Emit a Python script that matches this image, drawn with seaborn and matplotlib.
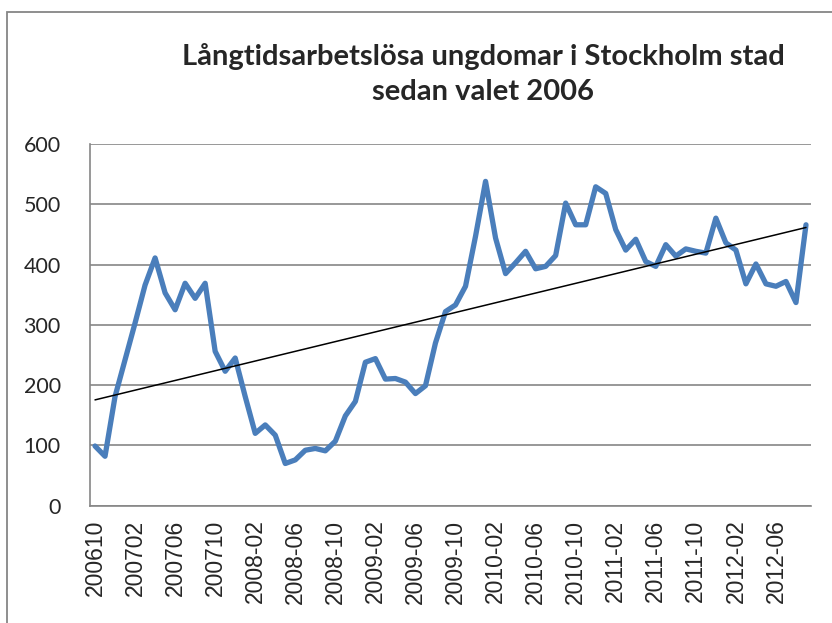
import matplotlib
matplotlib.use("Agg")
import matplotlib.pyplot as plt
from matplotlib.patches import Rectangle
import numpy as np
import pandas as pd
import seaborn as sns


# monthly values, 2006-10 .. 2012-09
months = (
    ["200610", "200611", "200612"]
    + [f"2007{m:02d}" for m in range(1, 13)]
    + [f"{y}-{m:02d}" for y in (2008, 2009, 2010, 2011) for m in range(1, 13)]
    + [f"2012-{m:02d}" for m in range(1, 10)]
)
values = [
    99, 82, 181, 242, 303, 366, 411, 353, 325, 369, 344, 369,
    256, 223, 245, 181, 120, 134, 117, 70, 76, 92, 95, 91,
    107, 149, 173, 238, 244, 210, 211, 205, 186, 199, 270, 322,
    333, 364, 447, 538, 444, 385, 403, 422, 393, 397, 415, 502,
    466, 466, 529, 518, 458, 424, 442, 405, 397, 433, 414, 426,
    422, 419, 477, 436, 424, 368, 401, 368, 364, 372, 337, 466,
]
title = "Långtidsarbetslösa ungdomar i Stockholm stad\nsedan valet 2006"

GRAY = "#868686"
BLUE = "#4A7EBB"

df = pd.DataFrame({"idx": np.arange(len(months)), "month": months, "value": values})
coef = np.polyfit(df["idx"], df["value"], 1)
df["trend"] = np.polyval(coef, df["idx"])

sns.set_style("white")
plt.rcParams["font.family"] = ["Liberation Sans", "DejaVu Sans"]

fig = plt.figure(figsize=(8.32, 6.23), dpi=100)
ax = fig.add_axes([90 / 832, 1 - 505.7 / 623, (811 - 90) / 832, (505.7 - 144) / 623])

sns.lineplot(data=df, x="idx", y="value", color=BLUE, linewidth=3.8, ax=ax, zorder=3)
sns.lineplot(data=df, x="idx", y="trend", color="black", linewidth=1.1, ax=ax, zorder=4)

ax.set_xlim(-0.5, len(months) - 0.5)
ax.set_ylim(0, 600)
ax.set_yticks(range(0, 601, 100))
ax.yaxis.grid(True, color=GRAY, linewidth=1.2)
ax.set_axisbelow(True)

major = list(range(0, len(months), 4))
ax.set_xticks(major)
ax.set_xticklabels([months[i] for i in major], rotation=90, fontsize=16.5)
ax.set_xticks(np.arange(-0.5, len(months), 1), minor=True)
ax.tick_params(axis="x", which="major", length=0, pad=10)
ax.tick_params(axis="x", which="minor", length=5, color=GRAY, width=1, direction="out")
ax.tick_params(axis="y", length=8, color=GRAY, width=1, direction="out", pad=13)
for lab in ax.get_yticklabels():
    lab.set_family(["Lato", "DejaVu Sans"])
    lab.set_fontsize(15.5)

ax.set_xlabel("")
ax.set_ylabel("")
for side in ("top", "right"):
    ax.spines[side].set_visible(False)
for side in ("left", "bottom"):
    ax.spines[side].set_color(GRAY)
    ax.spines[side].set_linewidth(1.2)

fig.text(483 / 832, 1 - 74 / 623, title, ha="center", va="center",
         fontsize=21, fontweight="bold", family=["Lato", "DejaVu Sans"], linespacing=1.45)

top = 1 - 12 / 623
fig.patches.append(Rectangle((7 / 832, -0.2), 1.2, top + 0.2, transform=fig.transFigure,
                             fill=False, edgecolor=GRAY, linewidth=1.3))

fig.savefig("out.png", dpi=100)
